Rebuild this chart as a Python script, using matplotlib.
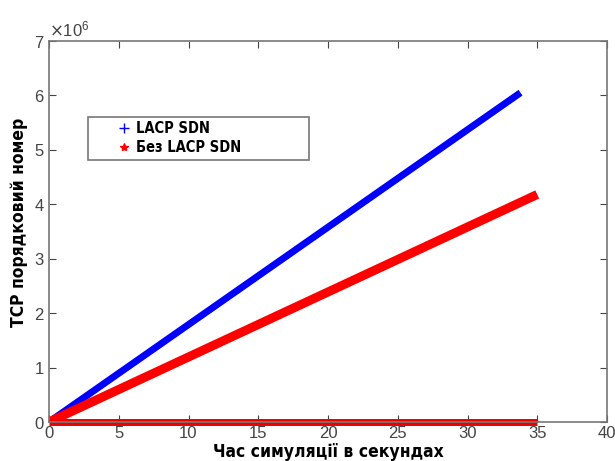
import numpy as np
import matplotlib
matplotlib.use('Agg')
import matplotlib.pyplot as plt
from matplotlib.lines import Line2D
from matplotlib.ticker import ScalarFormatter
from matplotlib import font_manager

# data
time_lacp = [0, 33.8]
seq_lacp = [0, 6.05e6]
time_no_lacp = [0, 35]
seq_no_lacp = [0, 4.18e6]
time_zero = [0, 35]
seq_zero = [0, 0]

legend_labels = ['LACP SDN', 'Без LACP SDN']
x_ticks = [0, 5, 10, 15, 20, 25, 30, 35, 40]
y_ticks = [0, 1e6, 2e6, 3e6, 4e6, 5e6, 6e6, 7e6]

# condensed bold font for the labels, if there is one
names = {f.name for f in font_manager.fontManager.ttflist}
label_font = ['DejaVu Sans']
for n in ['Liberation Sans Narrow', 'DejaVu Sans Condensed']:
    if n in names:
        label_font = [n, 'DejaVu Sans']
        break
tick_font = ['Liberation Sans', 'DejaVu Sans']

fig = plt.figure(figsize=(6.15, 4.61), dpi=100)
ax = fig.add_axes([49/615, 39/461, 558/615, 381/461])

ax.plot(time_lacp, seq_lacp, color='#0000ff', lw=5, solid_capstyle='butt')
ax.plot(time_no_lacp, seq_no_lacp, color='#ff0000', lw=6.5, solid_capstyle='butt')
ax.plot(time_zero, seq_zero, color='#ee0000', lw=5, solid_capstyle='butt', clip_on=False)

ax.set_xlim(0, 40)
ax.set_ylim(0, 7e6)
ax.set_xticks(x_ticks)
ax.set_yticks(y_ticks)

fmt = ScalarFormatter(useMathText=True)
fmt.set_powerlimits((0, 0))
ax.yaxis.set_major_formatter(fmt)
ax.yaxis.get_offset_text().set_fontsize(12)
ax.yaxis.get_offset_text().set_color('#444444')
ax.yaxis.get_offset_text().set_family(tick_font)

ax.tick_params(direction='in', length=5, top=True, right=True, labelsize=12,
               colors='#444444', pad=3)
for lbl in ax.get_xticklabels() + ax.get_yticklabels():
    lbl.set_family(tick_font)
for sp in ax.spines.values():
    sp.set_color('#777777')
    sp.set_linewidth(1.2)

ax.set_xlabel('Час симуляції в секундах', family=label_font, fontweight='bold',
              stretch='condensed', fontsize=12.5, labelpad=1)
ax.set_ylabel('TCP порядковий номер', family=label_font, fontweight='bold',
              stretch='condensed', fontsize=12.5)
ax.yaxis.set_label_coords(-0.037, 0.525)

handles = [Line2D([], [], ls='none', marker='+', color='#0000ff', ms=7, mew=1),
           Line2D([], [], ls='none', marker='*', color='#ff0000', ms=6)]
leg = ax.legend(handles, legend_labels, loc='lower left',
                bbox_to_anchor=(0.07, 0.688, 0.396, 0.115), mode='expand',
                borderaxespad=0, fancybox=False, handlelength=4.3,
                handletextpad=-1.3, borderpad=0.3, labelspacing=0.3,
                prop={'family': label_font, 'weight': 'bold', 'stretch': 'condensed',
                      'size': 10.5})
leg.get_frame().set_edgecolor('#555555')
leg.get_frame().set_linewidth(1.2)

plt.savefig('out.png', dpi=100)
